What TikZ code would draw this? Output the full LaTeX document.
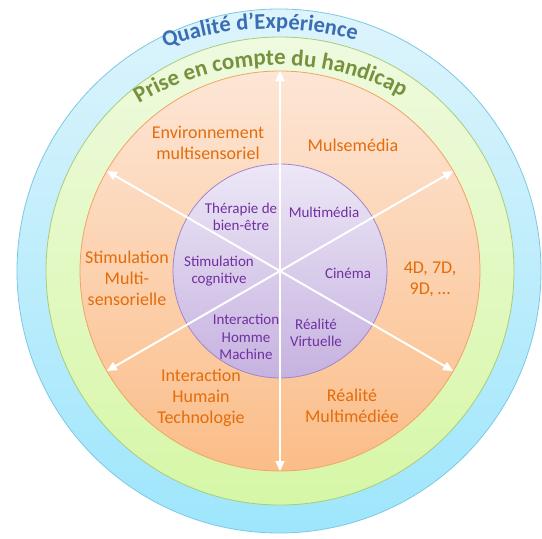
\documentclass[tikz,border=0pt]{standalone}
\usepackage{fontspec}
\setmainfont{Carlito}
\usepackage{tikz}
\usetikzlibrary{arrows.meta,decorations.text,positioning}

\definecolor{qoeblue}{HTML}{3A6DB4}
\definecolor{hcgreen}{HTML}{76923C}
\definecolor{lblorange}{HTML}{E46C0A}
\definecolor{lblpurple}{HTML}{7030A0}
\definecolor{bluetop}{HTML}{DDF4FC}
\definecolor{bluebot}{HTML}{9EE6FC}
\definecolor{blueline}{HTML}{7CC8E4}
\definecolor{greentop}{HTML}{EFFADF}
\definecolor{greenbot}{HTML}{D6F7A6}
\definecolor{greenline}{HTML}{A9CC7A}
\definecolor{orangetop}{HTML}{FDE6D6}
\definecolor{orangebot}{HTML}{FBBD88}
\definecolor{orangeline}{HTML}{F2A462}
\definecolor{purpletop}{HTML}{EDE7F6}
\definecolor{purplebot}{HTML}{C6B2E0}
\definecolor{purpleline}{HTML}{9F87C9}

\newcommand{\qoefont}{\fontsize{22.5}{27}\selectfont\bfseries\color{qoeblue}}
\newcommand{\hcfont}{\fontsize{23}{28}\selectfont\bfseries\color{hcgreen}}

\begin{document}
\begin{tikzpicture}[x=1pt, y=1pt,
                   ring/.style={line width=0.8pt},
                   spoke/.style={white, line width=2pt, {Triangle[length=10pt,width=9pt]}-{Triangle[length=10pt,width=9pt]}},
                   outerlbl/.style={text=lblorange, font=\fontsize{18}{21}\selectfont, align=center},
                   innerlbl/.style={text=lblpurple, font=\fontsize{15}{17.5}\selectfont, align=center}]
          \useasboundingbox (-280,-268) rectangle (262,271);
          % rings
          \draw[ring, draw=blueline, top color=bluetop, bottom color=bluebot] (-1,0) circle (262pt);
          \draw[ring, draw=greenline, top color=greentop, bottom color=greenbot] (0,0) circle (234pt);
          \draw[ring, draw=orangeline, top color=orangetop, bottom color=orangebot] (0,0) circle (200pt);
          \draw[ring, draw=purpleline, top color=purpletop, bottom color=purplebot] (0,0) circle (107pt);
          % titles along the rings
          \path[decorate, decoration={text along path, text align=center,
                text={|\qoefont|Qualité d’Expérience}}]
            (-9,-78) ++(151:320pt) arc[start angle=151, end angle=33, radius=320pt];
          \path[decorate, decoration={text along path, text align=center,
                text={|\hcfont|Prise en compte du handicap}}]
            (-3,-60) ++(152:266pt) arc[start angle=152, end angle=31, radius=266pt];
          % spokes
          \coordinate (o30) at (30:200pt);
          \coordinate (o90) at (90:200pt);
          \coordinate (o150) at (150:200pt);
          \coordinate (o210) at (210:200pt);
          \coordinate (o270) at (270:200pt);
          \coordinate (o330) at (330:200pt);
          \draw[spoke] (o270) -- (o90);
          \draw[spoke] (o330) -- (o150);
          \draw[spoke] (o210) -- (o30);
          % outer labels
          \node[outerlbl] (env) at (-72,128) {Environnement\\multisensoriel};
          \node[outerlbl] (mulse) at (73,126) {Mulsemédia};
          \node[outerlbl] (stimms) at (-153,-7) {Stimulation\\Multi-\\sensorielle};
          \node[outerlbl] (fourd) at (150,-8) {4D, 7D,\\9D, …};
          \node[outerlbl] (iht) at (-79,-127) {Interaction\\Humain\\Technologie};
          \node[outerlbl] (remm) at (72,-135) {Réalité\\Multimédiée};
          % inner labels
          \node[innerlbl] (therap) at (-39,54) {Thérapie de\\bien-être};
          \node[innerlbl] (multim) at (44,59) {Multimédia};
          \node[innerlbl] (stimcog) at (-61,0) {Stimulation\\cognitive};
          \node[innerlbl] (cinema) at (68,-2) {Cinéma};
          \node[innerlbl] (ihm) at (-34,-66) {Interaction\\Homme\\Machine};
          \node[innerlbl] (rv) at (36,-62) {Réalité\\Virtuelle};
        \end{tikzpicture}
\end{document}
